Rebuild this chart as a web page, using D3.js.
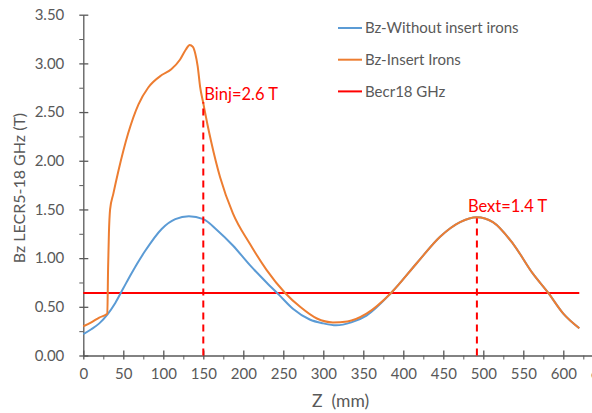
<!DOCTYPE html>
<html>
<head>
<meta charset="utf-8">
<script src="https://cdn.jsdelivr.net/npm/d3@7"></script>
<style>
  body { margin: 0; background: #fff; }
  svg { display: block; font-family: Lato, "Open Sans", sans-serif; }
</style>
</head>
<body>
<div id="chart"></div>
<script>
// Bz without insert irons
const zWithout = [0, 10, 20, 30, 40, 50, 60, 77, 98, 115, 132, 150, 167, 187, 208, 229, 245, 262, 283, 300, 316, 335, 354, 385, 417, 446, 471, 492, 512, 537, 562, 581, 600, 620];
const bWithout = [0.22, 0.27, 0.33, 0.42, 0.54, 0.69, 0.84, 1.07, 1.30, 1.40, 1.43, 1.40, 1.29, 1.13, 0.93, 0.75, 0.62, 0.48, 0.37, 0.33, 0.31, 0.34, 0.41, 0.645, 0.95, 1.22, 1.37, 1.42, 1.37, 1.15, 0.84, 0.645, 0.43, 0.28];

// Bz with insert irons
const zIrons = [0, 10, 20, 30, 31, 32, 33.5, 37.5, 44, 56, 69, 81, 98, 110, 121, 128, 133, 137, 140, 143, 146, 150, 155, 160, 171, 187, 208, 229, 252, 271, 292, 312, 330, 354, 385, 417, 446, 471, 492, 512, 537, 562, 581, 600, 620];
const bIrons = [0.30, 0.34, 0.39, 0.43, 0.9, 1.25, 1.5, 1.66, 1.9, 2.28, 2.58, 2.75, 2.88, 2.94, 3.04, 3.14, 3.19, 3.17, 3.1, 2.97, 2.76, 2.59, 2.38, 2.19, 1.83, 1.46, 1.15, 0.88, 0.645, 0.5, 0.38, 0.34, 0.35, 0.43, 0.645, 0.95, 1.22, 1.37, 1.42, 1.37, 1.15, 0.84, 0.645, 0.43, 0.28];

// ECR resonance field at 18 GHz
const becrValue = 0.643;
const becrRange = [0, 620];

// marked values
const markerLabels = ["Binj=2.6 T", "Bext=1.4 T"];
const markerZ = [150, 492];
const markerB = [2.6, 1.41];

const seriesNames = ["Bz-Without insert irons", "Bz-Insert Irons", "Becr18 GHz"];
const seriesColors = ["#5b9bd5", "#ed7d31", "#ff0000"];

const xTicks = d3.range(0, 651, 50);
const yTicks = d3.range(0, 3.51, 0.5);

const width = 592, height = 413;
const grey = "#595959";

const svg = d3.select("#chart").append("svg")
  .attr("width", width)
  .attr("height", height);

const x = d3.scaleLinear().domain([0, 650]).range([83.3, 603.3]);
const y = d3.scaleLinear().domain([0, 3.5]).range([355.5, 14.7]);

// x axis: minor ticks then major crossing ticks
svg.append("g")
  .attr("transform", `translate(0,${y(0)})`)
  .call(d3.axisBottom(x).tickValues(d3.range(25, 651, 50)).tickSize(4).tickFormat(""))
  .call(g => g.select(".domain").remove())
  .selectAll("line").attr("stroke", grey);

const xAxis = svg.append("g")
  .attr("transform", `translate(0,${y(0)})`)
  .call(d3.axisBottom(x).tickValues(xTicks).tickSize(5).tickPadding(8).tickSizeOuter(0));
xAxis.selectAll(".tick line").attr("y1", -5).attr("y2", 4);

// y axis
svg.append("g")
  .attr("transform", `translate(${x(0)},0)`)
  .call(d3.axisLeft(y).tickValues(d3.range(0.25, 3.5, 0.5)).tickSize(4).tickFormat(""))
  .call(g => g.select(".domain").remove())
  .selectAll("line").attr("stroke", grey);

const yAxis = svg.append("g")
  .attr("transform", `translate(${x(0)},0)`)
  .call(d3.axisLeft(y).tickValues(yTicks).tickSize(5).tickPadding(14).tickSizeOuter(0).tickFormat(d3.format(".2f")));
yAxis.selectAll(".tick line").attr("x1", -4).attr("x2", 5);

[xAxis, yAxis].forEach(a => {
  a.select(".domain").attr("stroke", grey).attr("stroke-width", 1.3);
  a.selectAll(".tick line").attr("stroke", grey).attr("stroke-width", 1.3);
  a.selectAll(".tick text").attr("fill", grey).attr("font-size", 15).attr("font-family", "Lato, sans-serif");
});

// axis titles
svg.append("text")
  .attr("x", 312).attr("y", 407)
  .attr("fill", grey).attr("font-size", 17.5)
  .attr("xml:space", "preserve")
  .text("Z  (mm)");

svg.append("text")
  .attr("transform", `translate(25,188) rotate(-90)`)
  .attr("text-anchor", "middle")
  .attr("fill", grey).attr("font-size", 16)
  .text("Bz LECR5-18 GHz (T)");

// Becr horizontal line
svg.append("line")
  .attr("x1", x(becrRange[0])).attr("x2", x(becrRange[1]))
  .attr("y1", y(becrValue)).attr("y2", y(becrValue))
  .attr("stroke", seriesColors[2]).attr("stroke-width", 2);

// curves
const line = d3.line()
  .x(d => x(d[0]))
  .y(d => y(d[1]))
  .curve(d3.curveMonotoneX);

[[zWithout, bWithout], [zIrons, bIrons]].forEach(([zs, bs], i) => {
  svg.append("path")
    .datum(d3.zip(zs, bs))
    .attr("d", line)
    .attr("fill", "none")
    .attr("stroke", seriesColors[i])
    .attr("stroke-width", 2);
});

// dashed markers
markerZ.forEach((z, i) => {
  svg.append("line")
    .attr("x1", x(z)).attr("x2", x(z))
    .attr("y1", y(0)).attr("y2", y(markerB[i]))
    .attr("stroke", "#ff0000").attr("stroke-width", 2)
    .attr("stroke-dasharray", "7,5");
});

svg.append("text")
  .attr("x", x(markerZ[0]) + 1).attr("y", 100)
  .attr("fill", "#ff0000").attr("font-size", 16.5)
  .text(markerLabels[0]);

svg.append("text")
  .attr("x", x(markerZ[1]) - 9).attr("y", 212)
  .attr("fill", "#ff0000").attr("font-size", 16.5)
  .text(markerLabels[1]);

// legend
const legend = svg.append("g").attr("transform", "translate(338,28)");
seriesNames.forEach((name, i) => {
  const g = legend.append("g").attr("transform", `translate(0,${i * 31.7})`);
  g.append("line")
    .attr("x1", 0).attr("x2", 24)
    .attr("stroke", seriesColors[i]).attr("stroke-width", 2);
  g.append("text")
    .attr("x", 27).attr("dy", "0.35em")
    .attr("fill", grey).attr("font-size", 15)
    .text(name);
});
</script>
</body>
</html>
